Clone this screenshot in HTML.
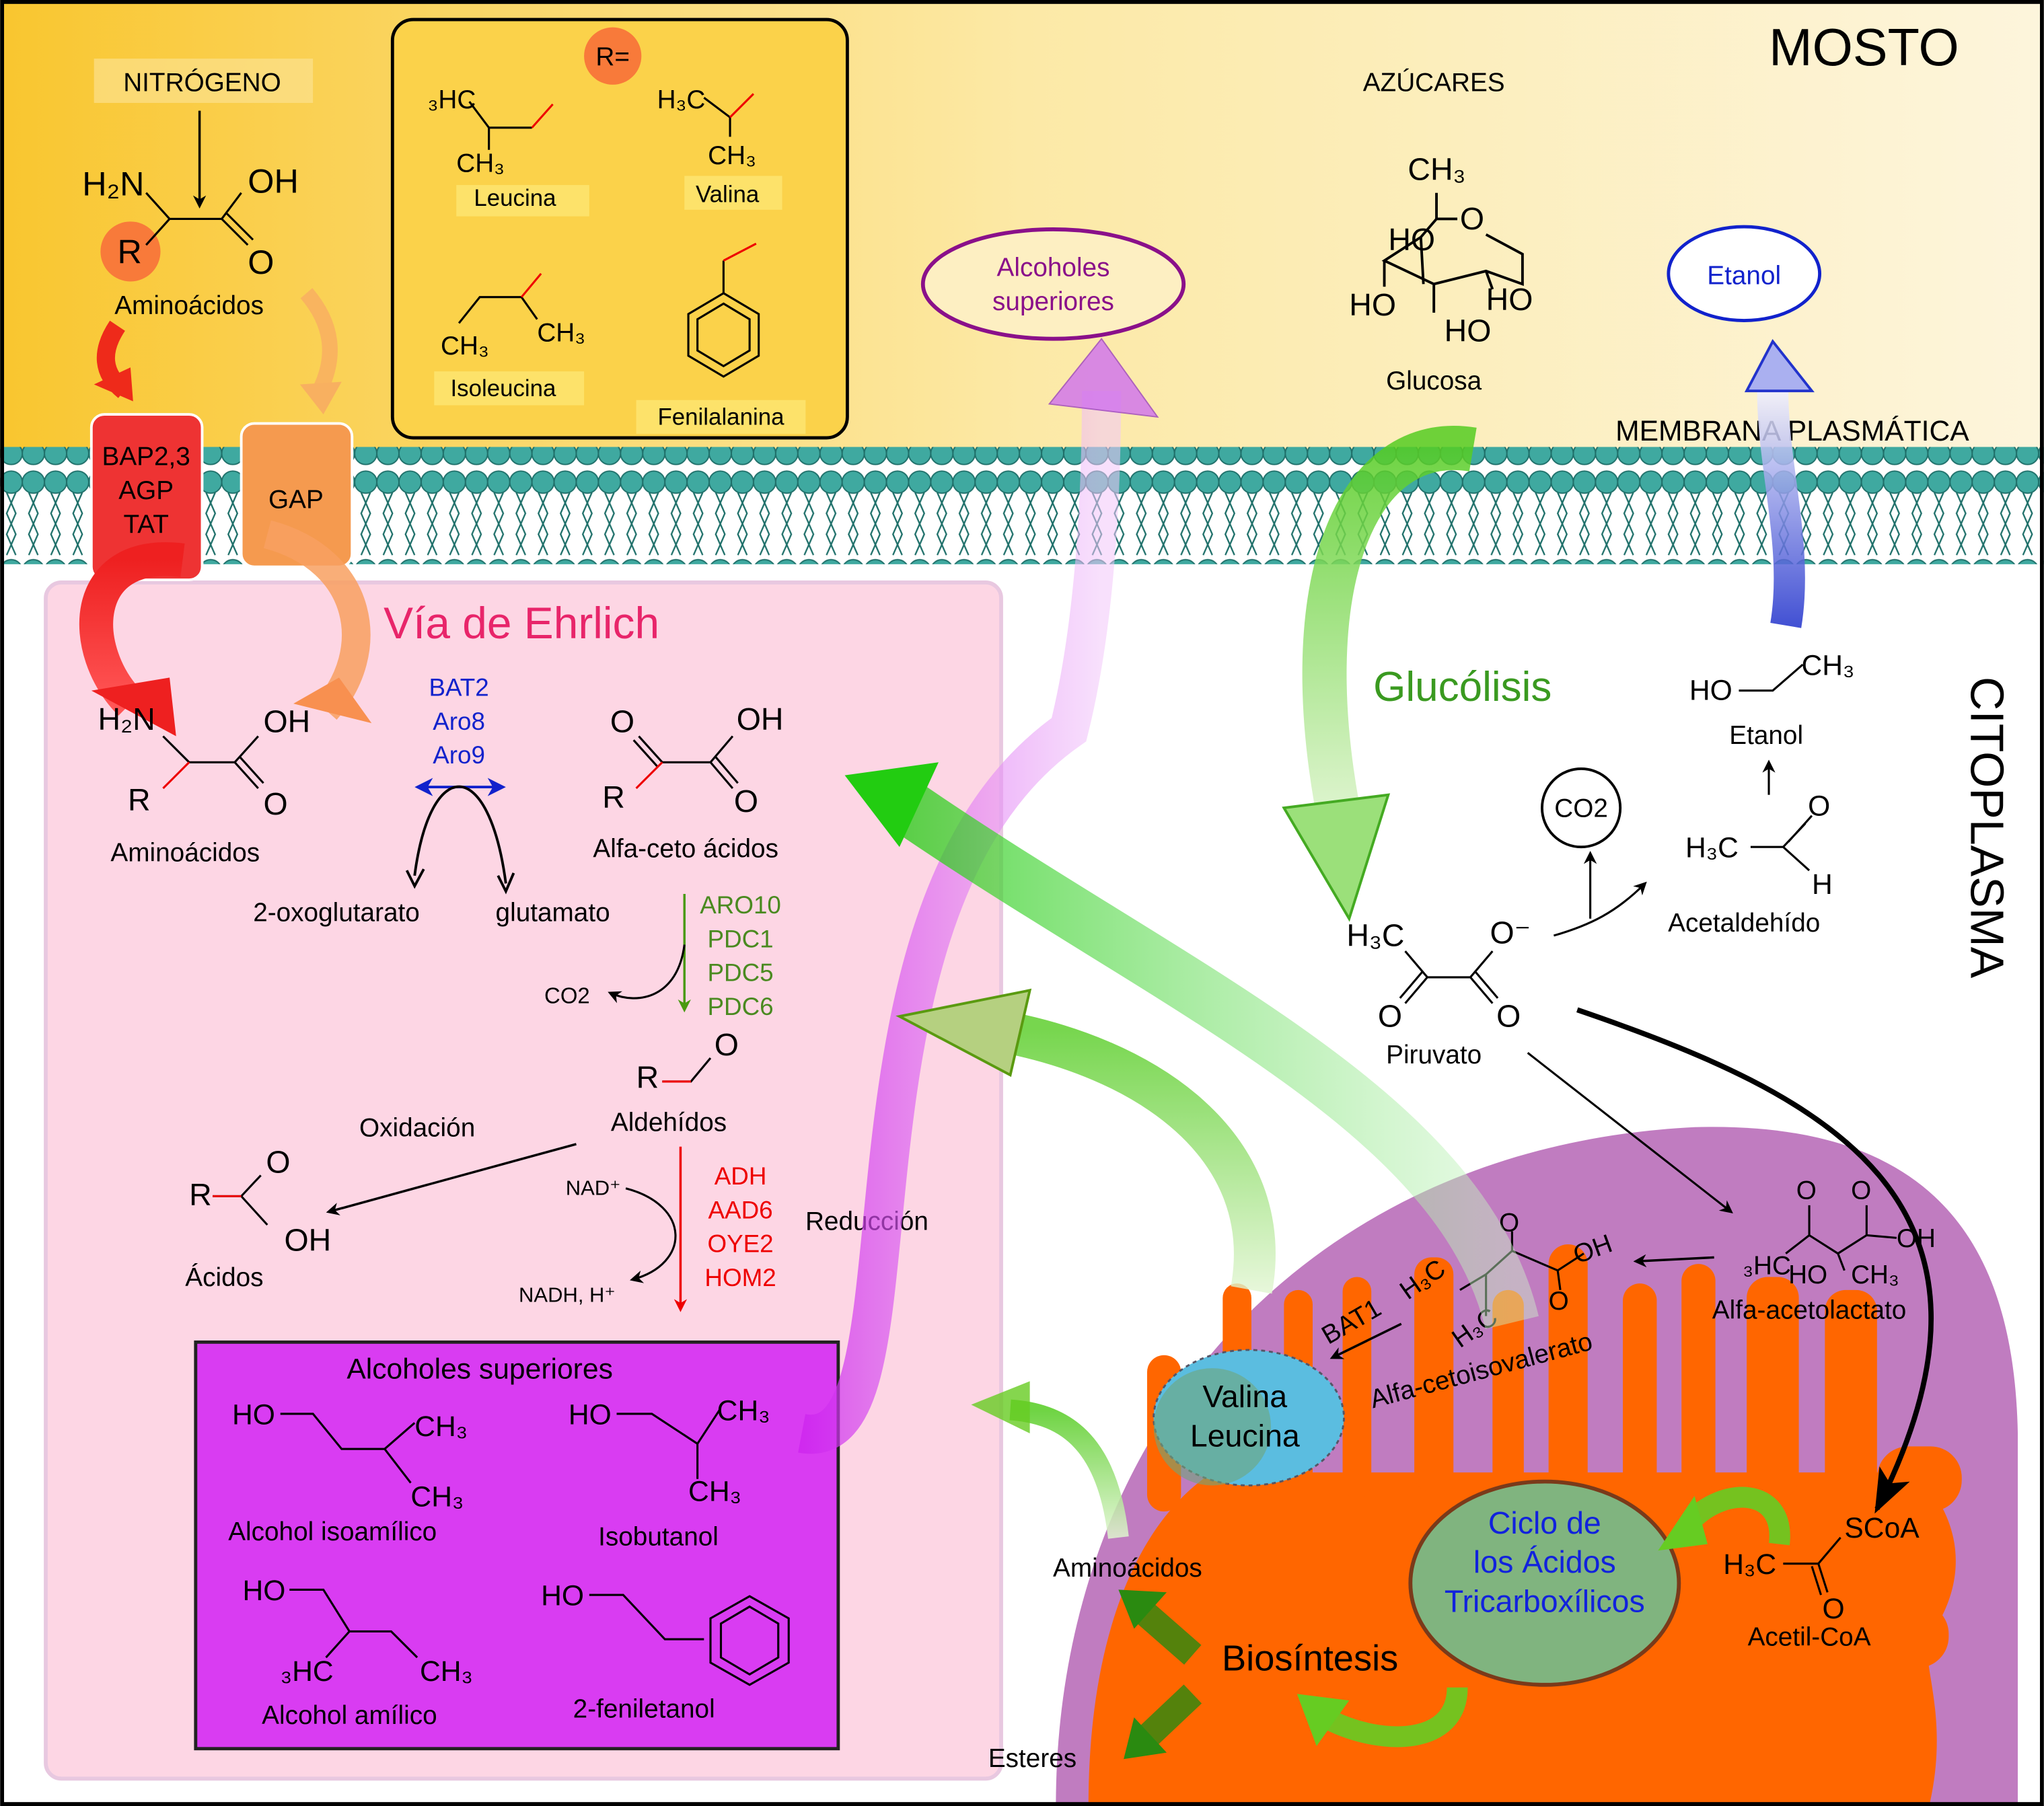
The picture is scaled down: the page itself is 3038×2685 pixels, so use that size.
<!DOCTYPE html>
<html><head><meta charset="utf-8"><style>
html,body{margin:0;padding:0;background:#fff}
svg{display:block}
text{font-family:"Liberation Sans",sans-serif}
</style></head><body>
<svg width="3038" height="2685" viewBox="0 0 1568 1386" xmlns="http://www.w3.org/2000/svg">
<defs>
<linearGradient id="yel" x1="0" x2="1" y1="0" y2="0"><stop offset="0" stop-color="#f9c62f"/><stop offset="0.5" stop-color="#fce9a6"/><stop offset="1" stop-color="#fdf5dc"/></linearGradient>
<linearGradient id="pur" x1="0" x2="1"><stop offset="0" stop-color="#cc22ee" stop-opacity=".9"/><stop offset="1" stop-color="#f2c8fa" stop-opacity=".7"/></linearGradient>
<linearGradient id="grn" x1="0" x2="1" y1="0" y2="0"><stop offset="0" stop-color="#22cc11"/><stop offset="1" stop-color="#ccf5c8" stop-opacity=".6"/></linearGradient>
<linearGradient id="grn2" x1="0" x2="0" y1="0" y2="1"><stop offset="0" stop-color="#55cc22"/><stop offset="1" stop-color="#e0f5d0"/></linearGradient>
<linearGradient id="blu" x1="0" x2="0" y1="0" y2="1"><stop offset="0" stop-color="#f0f0ff"/><stop offset="1" stop-color="#2233cc"/></linearGradient>
<linearGradient id="red" x1="0" x2="0" y1="0" y2="1"><stop offset="0" stop-color="#ee2020"/><stop offset="1" stop-color="#ff5555"/></linearGradient>
<pattern id="mem" x="0" y="0" width="17" height="90" patternUnits="userSpaceOnUse">
<circle cx="8.5" cy="353" r="9" fill="#3aa39a" stroke="#1f706a" stroke-width="1"/>
<circle cx="8.5" cy="10" r="8.5" fill="#3fa9a0" stroke="#1f706a"/>
<circle cx="8.5" cy="78" r="8.5" fill="#3fa9a0" stroke="#1f706a"/>
<path d="M5 18 L12 34 L5 50 L12 66 M12 18 L5 34 L12 50 L5 66" stroke="#1f706a" stroke-width="1.2" fill="none"/>
</pattern>
<marker id="ah" markerWidth="10" markerHeight="10" refX="8" refY="5" orient="auto" markerUnits="userSpaceOnUse"><path d="M0 0 L10 5 L0 10 L3 5 Z" fill="#000"/></marker>
<marker id="ahr" markerWidth="10" markerHeight="10" refX="8" refY="5" orient="auto" markerUnits="userSpaceOnUse"><path d="M0 0 L10 5 L0 10 L3 5 Z" fill="#e00"/></marker>
<marker id="ahg" markerWidth="10" markerHeight="10" refX="8" refY="5" orient="auto" markerUnits="userSpaceOnUse"><path d="M0 0 L10 5 L0 10 L3 5 Z" fill="#4a9a10"/></marker>
<marker id="ahb" markerWidth="14" markerHeight="14" refX="12" refY="7" orient="auto-start-reverse" markerUnits="userSpaceOnUse"><path d="M0 0 L14 7 L0 14 L4 7 Z" fill="#1122cc"/></marker>
<marker id="ahk" markerWidth="34" markerHeight="26" refX="30" refY="13" orient="auto" markerUnits="userSpaceOnUse"><path d="M0 0 L34 13 L0 26 L8 13 Z" fill="#000"/></marker>
</defs>
<rect width="1568" height="1386" fill="#fff"/>
<rect x="0" y="0" width="1568" height="350" fill="url(#yel)"/>
<!-- membrane -->
<rect x="0" y="343" width="1568" height="90" fill="url(#mem)"/>
<!-- pink box -->
<rect x="35" y="447" width="733" height="918" rx="12" fill="#fdd6e4" stroke="#e8c8e0" stroke-width="3"/>
<!-- mitochondrion -->
<path d="M810 1386 C810 1100 1000 880 1300 865 C1480 860 1545 950 1548 1100 L1548 1386 Z" fill="#c07cc0"/>
<path d="M835 1386 C835 1260 870 1170 930 1130 L1470 1130 C1500 1160 1510 1200 1490 1240 C1460 1260 1500 1300 1480 1386 Z" fill="#ff6600"/>
<g fill="#ff6600">
<rect x="880" y="1040" width="26" height="120" rx="13"/>
<rect x="938" y="985" width="22" height="160" rx="11"/>
<rect x="985" y="990" width="22" height="160" rx="11"/>
<rect x="1030" y="980" width="22" height="170" rx="11"/>
<rect x="1085" y="965" width="30" height="180" rx="13"/>
<rect x="1145" y="990" width="24" height="160" rx="12"/>
<rect x="1188" y="955" width="30" height="190" rx="15"/>
<rect x="1245" y="985" width="26" height="160" rx="13"/>
<rect x="1290" y="970" width="26" height="175" rx="13"/>
<rect x="1340" y="980" width="40" height="170" rx="16"/>
<rect x="1400" y="990" width="40" height="160" rx="16"/>
<rect x="1440" y="1110" width="65" height="50" rx="24"/>
<rect x="1440" y="1230" width="55" height="50" rx="24"/>
</g>
<g stroke="#000" stroke-width="3" fill="none"><rect x="1.5" y="1.5" width="1565" height="1383"/></g>
<!-- R box -->
<rect x="301" y="15" width="349" height="321" rx="16" fill="#fbd24a" stroke="#000" stroke-width="2.5"/>
<circle cx="470" cy="43" r="22" fill="#f87a3a"/><text x="470" y="50" font-size="20" text-anchor="middle">R=</text>
<g fill="#fde26a"><rect x="350" y="142" width="102" height="24"/><rect x="525" y="135" width="75" height="26"/><rect x="333" y="285" width="115" height="26"/><rect x="488" y="307" width="130" height="26"/></g>
<g font-size="18" text-anchor="middle"><text x="395" y="158">Leucina</text><text x="558" y="155">Valina</text><text x="386" y="304">Isoleucina</text><text x="553" y="326">Fenilalanina</text></g>
<g stroke="#000" stroke-width="1.6" fill="none">
<path d="M360 78 L375 98 L408 98"/><path d="M375 98 L375 115"/><path d="M540 75 L560 90 L560 105"/>
<path d="M352 248 L368 228 L400 228 L412 245"/>
<path d="M555 200 L555 225"/><polygon points="555,225 582,241 582,273 555,289 528,273 528,241"/><polygon points="555,233 575,245 575,269 555,281 535,269 535,245"/>
</g>
<g stroke="#e00" stroke-width="1.6" fill="none"><path d="M408 98 L424 80"/><path d="M560 90 L578 72"/><path d="M400 228 L415 210"/><path d="M555 200 L580 187"/></g>
<g font-size="20"><text x="328" y="83">₃HC</text><text x="350" y="132">CH₃</text><text x="504" y="83">H₃C</text><text x="543" y="126">CH₃</text><text x="338" y="272">CH₃</text><text x="412" y="262">CH₃</text></g>
<!-- nitrogeno -->
<rect x="72" y="45" width="168" height="34" fill="#fbe49a" opacity=".6"/>
<text x="155" y="70" font-size="20" text-anchor="middle">NITRÓGENO</text>
<line x1="153" y1="85" x2="153" y2="158" stroke="#000" stroke-width="1.8" marker-end="url(#ah)"/>
<circle cx="100" cy="193" r="23" fill="#f87a3a"/>
<g font-size="26"><text x="63" y="150">H₂N</text><text x="190" y="148">OH</text><text x="90" y="202">R</text><text x="190" y="210">O</text></g>
<path d="M112 148 L130 168 L170 168 L185 148 M170 168 L190 188 M174 164 L194 184 M130 168 L112 188" stroke="#000" stroke-width="1.6" fill="none"/>
<text x="145" y="241" font-size="20" text-anchor="middle">Aminoácidos</text>
<!-- orange/red small arrows -->
<path d="M90 250 Q70 280 95 300" stroke="#ee2a1a" stroke-width="14" fill="none"/><path d="M72 295 L102 308 L100 282 Z" fill="#ee2a1a"/>
<path d="M235 225 Q265 260 245 300" stroke="#f8b060" stroke-width="12" fill="none" opacity=".9"/><path d="M230 295 L248 318 L262 293 Z" fill="#f8b060"/>
<!-- transporters -->
<rect x="70" y="318" width="85" height="127" rx="10" fill="#ee3333" stroke="#fff" stroke-width="2"/>
<rect x="185" y="325" width="85" height="110" rx="10" fill="#f59a4f" stroke="#fff" stroke-width="2"/>
<g font-size="20" text-anchor="middle"><text x="112" y="357">BAP2,3</text><text x="112" y="383">AGP</text><text x="112" y="409">TAT</text><text x="227" y="390">GAP</text></g>
<!-- big red & orange arrows into pink -->
<path d="M140 430 C60 420 60 500 100 540" stroke="url(#red)" stroke-width="26" fill="none"/><path d="M70 530 L135 565 L130 520 Z" fill="#ee2020"/>
<path d="M205 410 C280 430 290 500 250 545" stroke="#f8a060" stroke-width="22" fill="none" opacity=".85"/><path d="M225 540 L285 555 L260 520 Z" fill="#f89050"/>
<text x="400" y="490" font-size="34" fill="#e8256a" text-anchor="middle" font-family="DejaVu Sans">Vía de Ehrlich</text>
<!-- aminoacidos pink -->
<g font-size="24"><text x="75" y="560">H₂N</text><text x="202" y="562">OH</text><text x="98" y="622">R</text><text x="202" y="625">O</text></g>
<path d="M125 565 L145 585 L180 585 L198 565 M180 585 L198 605 M184 581 L202 601" stroke="#000" stroke-width="1.6" fill="none"/><path d="M145 585 L125 605" stroke="#e00" stroke-width="1.6"/>
<text x="142" y="661" font-size="20" text-anchor="middle">Aminoácidos</text>
<g font-size="19" fill="#1122cc" text-anchor="middle"><text x="352" y="534">BAT2</text><text x="352" y="560">Aro8</text><text x="352" y="586">Aro9</text></g>
<line x1="320" y1="604" x2="386" y2="604" stroke="#1122cc" stroke-width="2" marker-end="url(#ahb)" marker-start="url(#ahb)"/>
<path d="M318 672 C330 580 375 580 388 678" stroke="#000" stroke-width="2" fill="none"/>
<path d="M312 668 L318 680 L325 667" stroke="#000" stroke-width="2" fill="none"/><path d="M382 672 L388 684 L394 670" stroke="#000" stroke-width="2" fill="none"/>
<g font-size="20" text-anchor="middle"><text x="258" y="707">2-oxoglutarato</text><text x="424" y="707">glutamato</text></g>
<!-- alfa ceto -->
<g font-size="24"><text x="468" y="562">O</text><text x="565" y="560">OH</text><text x="462" y="620">R</text><text x="563" y="623">O</text></g>
<path d="M490 565 L508 585 L545 585 L562 565 M545 585 L562 605 M549 581 L566 601 M486 568 L504 588" stroke="#000" stroke-width="1.6" fill="none"/><path d="M508 585 L488 605" stroke="#e00" stroke-width="1.6"/>
<text x="526" y="658" font-size="20" text-anchor="middle">Alfa-ceto ácidos</text>
<line x1="525" y1="686" x2="525" y2="775" stroke="#4a9a10" stroke-width="1.8" marker-end="url(#ahg)"/>
<path d="M525 725 C520 765 490 772 468 762" stroke="#000" stroke-width="1.6" fill="none" marker-end="url(#ah)"/>
<g font-size="19" fill="#4a8a20" text-anchor="middle"><text x="568" y="701">ARO10</text><text x="568" y="727">PDC1</text><text x="568" y="753">PDC5</text><text x="568" y="779">PDC6</text></g>
<text x="435" y="770" font-size="17" text-anchor="middle">CO2</text>
<g font-size="24"><text x="488" y="835">R</text><text x="548" y="810">O</text></g>
<path d="M508 830 L530 830 L545 812" stroke="#000" stroke-width="1.6" fill="none"/><path d="M508 830 L530 830" stroke="#e00" stroke-width="1.6"/>
<text x="513" y="868" font-size="20" text-anchor="middle">Aldehídos</text>
<text x="320" y="872" font-size="20" text-anchor="middle">Oxidación</text>
<line x1="442" y1="878" x2="252" y2="930" stroke="#000" stroke-width="1.8" marker-end="url(#ah)"/>
<g font-size="24"><text x="145" y="925">R</text><text x="204" y="900">O</text><text x="218" y="960">OH</text></g>
<path d="M163 918 L185 918 L200 902 M185 918 L205 940" stroke="#000" stroke-width="1.6" fill="none"/><path d="M163 918 L185 918" stroke="#e00" stroke-width="1.6"/>
<text x="172" y="987" font-size="20" text-anchor="middle">Ácidos</text>
<line x1="522" y1="880" x2="522" y2="1005" stroke="#e00" stroke-width="1.8" marker-end="url(#ahr)"/>
<path d="M480 912 C530 925 530 970 485 982" stroke="#000" stroke-width="1.6" fill="none" marker-end="url(#ah)"/>
<text x="455" y="917" font-size="16" text-anchor="middle">NAD⁺</text><text x="435" y="999" font-size="16" text-anchor="middle">NADH, H⁺</text>
<g font-size="19" fill="#e00" text-anchor="middle"><text x="568" y="909">ADH</text><text x="568" y="935">AAD6</text><text x="568" y="961">OYE2</text><text x="568" y="987">HOM2</text></g>
<text x="665" y="944" font-size="20" text-anchor="middle">Reducción</text>
<!-- purple box -->
<rect x="150" y="1030" width="493" height="312" fill="#d93cf2" stroke="#222" stroke-width="2.5"/>
<text x="368" y="1058" font-size="22" text-anchor="middle">Alcoholes superiores</text>
<g font-size="22"><text x="178" y="1093">HO</text><text x="318" y="1102">CH₃</text><text x="315" y="1156">CH₃</text><text x="436" y="1093">HO</text><text x="550" y="1090">CH₃</text><text x="528" y="1152">CH₃</text>
<text x="186" y="1228">HO</text><text x="215" y="1290">₃HC</text><text x="322" y="1290">CH₃</text><text x="415" y="1232">HO</text></g>
<g stroke="#000" stroke-width="1.6" fill="none">
<path d="M215 1085 L240 1085 L262 1112 L295 1112 L318 1092 M295 1112 L315 1138"/>
<path d="M473 1085 L500 1085 L535 1108 L552 1082 M535 1108 L535 1135"/>
<path d="M222 1220 L248 1220 L268 1252 L300 1252 L320 1272 M268 1252 L250 1272"/>
<path d="M452 1224 L478 1224 L510 1258 L540 1258"/><polygon points="575,1225 605,1242 605,1276 575,1293 545,1276 545,1242"/><polygon points="575,1233 597,1246 597,1272 575,1285 553,1272 553,1246"/>
</g>
<g font-size="20" text-anchor="middle"><text x="255" y="1182">Alcohol isoamílico</text><text x="505" y="1186">Isobutanol</text><text x="268" y="1323">Alcohol amílico</text><text x="494" y="1318">2-feniletanol</text></g>
<!-- glucose area -->
<text x="1100" y="70" font-size="20" text-anchor="middle">AZÚCARES</text>
<text x="1430" y="50" font-size="40" text-anchor="middle" font-family="DejaVu Sans">MOSTO</text>
<g font-size="24"><text x="1080" y="138">CH₃</text><text x="1120" y="176">O</text><text x="1065" y="192">HO</text><text x="1035" y="242">HO</text><text x="1140" y="238">HO</text><text x="1108" y="262">HO</text></g>
<path d="M1102 148 L1102 168 L1118 168 M1140 180 L1168 195 L1168 218 L1140 208 L1100 218 L1062 200 L1090 182 L1102 168 M1062 200 L1062 220 M1100 218 L1100 240 M1140 208 L1145 222 M1090 182 L1092 218" stroke="#000" stroke-width="2" fill="none"/>
<text x="1100" y="299" font-size="20" text-anchor="middle">Glucosa</text>
<ellipse cx="808" cy="218" rx="100" ry="42" fill="#fdefc2" stroke="#8a108a" stroke-width="3"/>
<g font-size="20" fill="#8a108a" text-anchor="middle"><text x="808" y="212">Alcoholes</text><text x="808" y="238">superiores</text></g>
<ellipse cx="1338" cy="210" rx="58" ry="36" fill="#fff" stroke="#1122cc" stroke-width="2.5"/>
<text x="1338" y="218" font-size="20" fill="#1122cc" text-anchor="middle">Etanol</text>
<text x="1375" y="338" font-size="22" text-anchor="middle" font-family="DejaVu Sans">MEMBRANA PLASMÁTICA</text>
<!-- cytoplasm -->
<text x="1122" y="538" font-size="32" fill="#3a9a20" text-anchor="middle" font-family="DejaVu Sans">Glucólisis</text>
<text transform="translate(1512 635) rotate(90)" font-size="36" text-anchor="middle" font-family="DejaVu Sans">CITOPLASMA</text>
<g font-size="22"><text x="1296" y="537">HO</text><text x="1382" y="518">CH₃</text></g>
<path d="M1334 530 L1360 530 L1383 510" stroke="#000" stroke-width="1.6" fill="none"/>
<text x="1355" y="571" font-size="20" text-anchor="middle">Etanol</text>
<line x1="1357" y1="610" x2="1357" y2="585" stroke="#000" stroke-width="1.6" marker-end="url(#ah)"/>
<g font-size="22"><text x="1293" y="658">H₃C</text><text x="1387" y="626">O</text><text x="1390" y="686">H</text></g>
<path d="M1343 650 L1368 650 L1385 632 M1368 650 L1388 668 M1372 646 L1390 626" stroke="#000" stroke-width="1.6" fill="none"/>
<text x="1338" y="715" font-size="20" text-anchor="middle">Acetaldehído</text>
<circle cx="1213" cy="620" r="30" fill="#fff" stroke="#000" stroke-width="2"/><text x="1213" y="627" font-size="20" text-anchor="middle">CO2</text>
<line x1="1220" y1="705" x2="1220" y2="655" stroke="#000" stroke-width="1.6" marker-end="url(#ah)"/>
<path d="M1192 718 C1220 710 1240 700 1262 678" stroke="#000" stroke-width="1.6" fill="none" marker-end="url(#ah)"/>
<g font-size="24"><text x="1033" y="726">H₃C</text><text x="1143" y="724">O⁻</text><text x="1057" y="788">O</text><text x="1148" y="788">O</text></g>
<path d="M1078 730 L1095 750 L1128 750 L1145 730 M1095 750 L1078 770 M1091 746 L1074 766 M1128 750 L1145 770 M1132 746 L1149 766" stroke="#000" stroke-width="1.6" fill="none"/>
<text x="1100" y="816" font-size="20" text-anchor="middle">Piruvato</text>
<line x1="1172" y1="808" x2="1328" y2="930" stroke="#000" stroke-width="1.6" marker-end="url(#ah)"/>
<path d="M1210 775 C1400 840 1560 920 1440 1158" stroke="#000" stroke-width="4" fill="none" marker-end="url(#ahk)"/>
<!-- mito content -->
<g font-size="20"><text x="1378" y="920">O</text><text x="1420" y="920">O</text><text x="1455" y="957">OH</text><text x="1337" y="978">₃HC</text><text x="1372" y="985">HO</text><text x="1420" y="985">CH₃</text></g>
<path d="M1370 962 L1388 948 L1410 962 L1432 948 L1455 950 M1388 948 L1388 925 M1432 948 L1432 925 M1410 962 L1415 975" stroke="#000" stroke-width="1.6" fill="none"/>
<text x="1388" y="1012" font-size="20" text-anchor="middle">Alfa-acetolactato</text>
<line x1="1315" y1="965" x2="1255" y2="968" stroke="#000" stroke-width="1.8" marker-end="url(#ah)"/>
<g font-size="20"><text x="1150" y="945">O</text><text x="1188" y="1005">O</text><text transform="translate(1210 970) rotate(-20)">OH</text><text transform="translate(1080 998) rotate(-35)">H₃C</text><text transform="translate(1120 1035) rotate(-35)">H₃C</text></g>
<path d="M1120 990 L1140 978 L1140 1010 M1140 978 L1160 960 L1195 975 L1215 962 M1160 960 L1160 945 M1195 975 L1197 990" stroke="#000" stroke-width="1.6" fill="none"/>
<text transform="translate(1138 1058) rotate(-15)" font-size="20" text-anchor="middle">Alfa-cetoisovalerato</text>
<text transform="translate(1040 1020) rotate(-30)" font-size="20" text-anchor="middle">BAT1</text>
<line x1="1075" y1="1016" x2="1022" y2="1042" stroke="#000" stroke-width="1.8" marker-end="url(#ah)"/>
<ellipse cx="958" cy="1088" rx="73" ry="52" fill="#5bbde0" stroke="#556" stroke-width="1.5" stroke-dasharray="3 3"/>
<ellipse cx="930" cy="1095" rx="45" ry="45" fill="#6fa57a" opacity=".6"/>
<g font-size="24" text-anchor="middle" font-family="DejaVu Sans"><text x="955" y="1080">Valina</text><text x="955" y="1110">Leucina</text></g>
<ellipse cx="1185" cy="1215" rx="103" ry="78" fill="#80b47f" stroke="#7a3a1a" stroke-width="3"/>
<g font-size="24" fill="#1122dd" text-anchor="middle" font-family="DejaVu Sans"><text x="1185" y="1177">Ciclo de</text><text x="1185" y="1207">los Ácidos</text><text x="1185" y="1237">Tricarboxílicos</text></g>
<text x="1005" y="1282" font-size="28" text-anchor="middle" font-family="DejaVu Sans">Biosíntesis</text>
<g font-size="22"><text x="1415" y="1180">SCoA</text><text x="1322" y="1208">H₃C</text><text x="1398" y="1242">O</text></g>
<path d="M1368 1200 L1395 1200 L1412 1180 M1395 1200 L1402 1222 M1390 1202 L1397 1224" stroke="#000" stroke-width="1.6" fill="none"/>
<text x="1388" y="1263" font-size="20" text-anchor="middle">Acetil-CoA</text>
<text x="865" y="1210" font-size="20" text-anchor="middle">Aminoácidos</text>
<text x="792" y="1356" font-size="20" text-anchor="middle">Esteres</text>
<!-- green small arrows in mito -->
<path d="M1365 1185 C1370 1140 1320 1140 1295 1170" stroke="#66cc22" stroke-width="16" fill="none" opacity=".9"/><path d="M1272 1190 L1300 1148 L1310 1185 Z" fill="#66cc22"/>
<path d="M1118 1295 C1118 1340 1060 1340 1020 1320" stroke="#66cc22" stroke-width="16" fill="none" opacity=".9"/><path d="M995 1300 L1035 1305 L1010 1340 Z" fill="#66cc22"/>
<path d="M915 1270 L875 1235" stroke="#2a8a10" stroke-width="20" opacity=".8"/><path d="M858 1220 L895 1222 L870 1250 Z" fill="#2a8a10"/>
<path d="M915 1300 L878 1335" stroke="#2a8a10" stroke-width="20" opacity=".8"/><path d="M862 1350 L870 1318 L895 1345 Z" fill="#2a8a10"/>
<path d="M858 1180 C850 1110 820 1085 775 1082" stroke="url(#grn2)" stroke-width="16" fill="none" opacity=".85"/><path d="M745 1078 L790 1060 L790 1100 Z" fill="#66cc22" opacity=".8"/>
<!-- big arrows -->
<path d="M615 1100 C720 1120 620 700 820 560 C840 480 845 380 845 300" stroke="url(#pur)" stroke-width="30" fill="none" opacity=".8"/>
<path d="M805 310 L845 260 L888 320 Z" fill="#d070f0" opacity=".8" stroke="#9a40c0"/>
<path d="M1160 1015 C1120 850 900 760 690 615" stroke="url(#grn)" stroke-width="42" fill="none" opacity=".75"/>
<path d="M648 595 L720 585 L690 650 Z" fill="#22cc11"/>
<path d="M960 990 C980 880 880 810 760 790" stroke="url(#grn2)" stroke-width="32" fill="none" opacity=".8"/>
<path d="M690 780 L790 760 L775 825 Z" fill="#b5d080" stroke="#5a9a10" stroke-width="2"/>
<path d="M1130 345 C1040 330 990 450 1030 640" stroke="url(#grn2)" stroke-width="34" fill="none" opacity=".85"/>
<path d="M985 620 L1035 705 L1065 610 Z" fill="#9be07a" stroke="#44aa22" stroke-width="2"/>
<path d="M1370 480 C1380 420 1360 360 1360 300" stroke="url(#blu)" stroke-width="24" fill="none" opacity=".85"/>
<path d="M1340 300 L1360 262 L1390 300 Z" fill="#aab0f0" stroke="#2233cc" stroke-width="2"/>
</svg>
</body></html>
